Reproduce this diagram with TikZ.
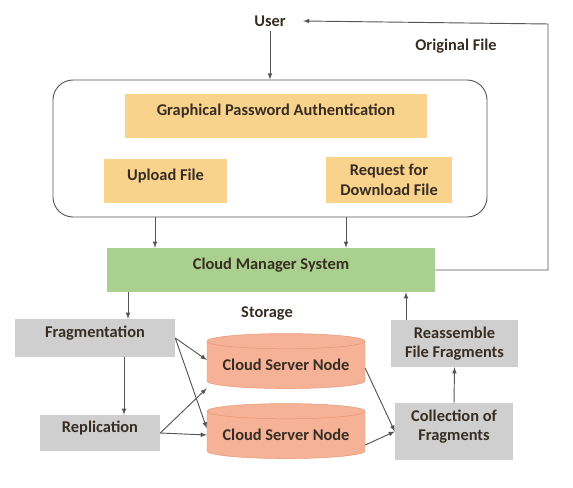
\documentclass[tikz,border=0pt]{standalone}
\usepackage{fontspec}
\setmainfont{Carlito}
\usetikzlibrary{shapes.geometric}
\definecolor{boxorange}{RGB}{249,210,140}
\definecolor{boxgreen}{RGB}{169,208,142}
\definecolor{boxgray}{RGB}{208,207,207}
\definecolor{cylfill}{RGB}{245,178,150}
\definecolor{cyldraw}{RGB}{232,150,115}
\definecolor{linegray}{RGB}{85,85,85}
\definecolor{txt}{RGB}{55,45,35}
\tikzset{>=latex,
  every node/.style={font=\bfseries\fontsize{14}{16.5}\selectfont,text=txt,align=center},
  orangebox/.style={fill=boxorange,inner sep=0pt},
  greenbox/.style={fill=boxgreen,inner sep=0pt},
  graybox/.style={fill=boxgray,inner sep=0pt},
  lift/.style={text depth=11pt},
  server/.style={cylinder,shape border rotate=90,aspect=0.12,draw=cyldraw,fill=cylfill,
    minimum width=4.74cm,minimum height=1.65cm,inner sep=0pt},
  arr/.style={->,draw=linegray,line width=0.8pt}
}

\begin{document}
\begin{tikzpicture}[x=0.03cm,y=-0.03cm]
\useasboundingbox (0,0) rectangle (573,488);
\node (user) at (270,21) {User};
\node (orig) at (456,46) {Original File};
\node [draw=linegray,line width=0.8pt,rounded corners=0.6cm,minimum width=13.02cm,minimum height=4.11cm]
  (auth) at (270,148.5) {};
\node [orangebox,lift,minimum width=9.06cm,minimum height=1.32cm] (gpa) at (276,116) {Graphical Password Authentication};
\node [orangebox,lift,minimum width=3.69cm,minimum height=1.32cm] (upl) at (165.5,181) {Upload File};
\node [orangebox,minimum width=3.78cm,minimum height=1.38cm] (req) at (389,180) {Request for\\Download File};
\node [greenbox,lift,minimum width=9.84cm,minimum height=1.32cm] (cms) at (271,270) {Cloud Manager System};
\node (stor) at (267,314) {Storage};
\node [graybox,lift,minimum width=4.8cm,minimum height=1.14cm] (frag) at (95,338) {Fragmentation};
\node [graybox,lift,minimum width=3.6cm,minimum height=1.08cm] (repl) at (100,433) {Replication};
\node [server] (csn1) at (286,365) {Cloud Server Node};
\node [server] (csn2) at (286,435) {Cloud Server Node};
\node [graybox,minimum width=3.81cm,minimum height=1.41cm] (reas) at (454.5,343.5) {Reassemble\\File Fragments};
\node [graybox,lift,minimum width=3.54cm,minimum height=1.71cm] (coll) at (454,431.5) {Collection of\\Fragments};
\coordinate (corner) at (548,24);
% user side
\draw [arr] (user) -- (auth.north);
\draw [arr] ([xshift=-0.315cm]upl.south |- auth.south) -- ([xshift=-0.315cm]upl.south |- cms.north);
\draw [arr] ([xshift=2.25cm]cms.north |- auth.south) -- ([xshift=2.25cm]cms.north);
\draw [arr] (cms.east) -| (corner) -- ([xshift=0.4cm]user.east);
% storage side
\draw [arr] ([xshift=0.99cm]frag.north |- cms.south) -- ([xshift=0.99cm]frag.north);
\draw [arr] ([xshift=0.72cm]repl.north |- frag.south) -- ([xshift=0.72cm]repl.north);
\draw [arr] (frag.east) -- ([yshift=0.15cm]csn1.west);
\draw [arr] (frag.east) -- ([yshift=0.2cm]csn2.west);
\draw [arr] (repl.east) -- ([yshift=-0.7cm]csn1.west);
\draw [arr] (repl.east) -- (csn2.west);
\draw [arr] ([yshift=-0.1cm]csn1.east) -- (coll.west);
\draw [arr] ([yshift=-0.3cm]csn2.east) -- (coll.west);
\draw [arr] (coll.north) -- (reas.south);
\draw [arr] ([xshift=-1.455cm]reas.north) -- ([xshift=-1.455cm]reas.north |- cms.south);
\end{tikzpicture}
\end{document}
